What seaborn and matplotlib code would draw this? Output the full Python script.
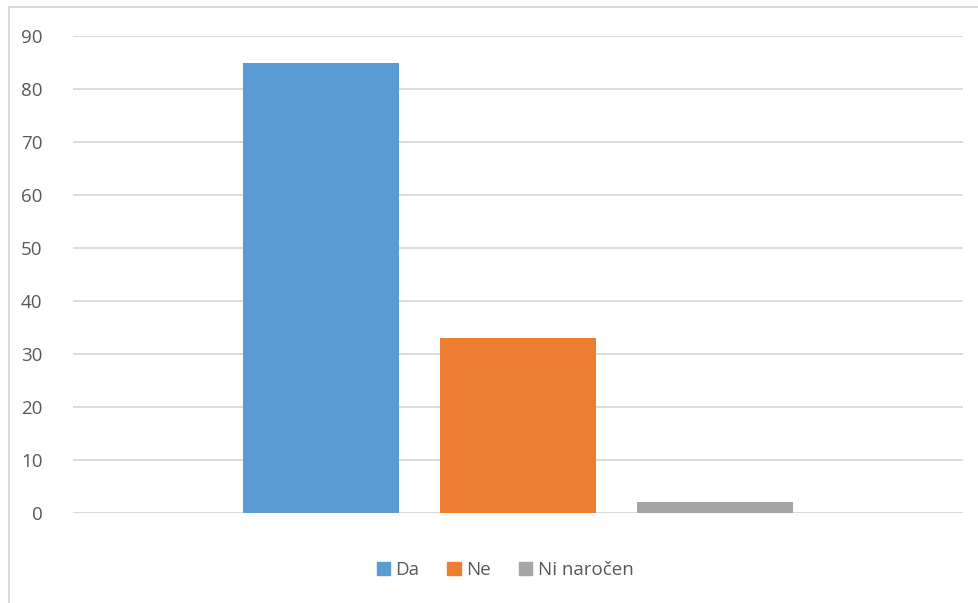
import pandas as pd
import numpy as np
from matplotlib import pyplot as plt
from matplotlib.patches import Rectangle
import seaborn as sns

# data
series = ['Da', 'Ne', 'Ni naročen']
values = [85, 33, 2]
colors = ['#5b9bd5', '#ed7d31', '#a5a5a5']
yticks = [0, 10, 20, 30, 40, 50, 60, 70, 80, 90]

df = pd.DataFrame({'cat': [''] * len(series), 'odgovor': series, 'n': values})

sns.set_theme(style='white')
plt.rcParams['font.family'] = ['Open Sans', 'DejaVu Sans']

fig = plt.figure(figsize=(9.79, 6.03), dpi=100)
ax = fig.add_axes([73/979, 1 - 513/603, (963 - 73)/979, (513 - 36)/603])

sns.barplot(data=df, x='cat', y='n', hue='odgovor', hue_order=series,
            palette=colors, width=0.664, gap=0.208, saturation=1,
            linewidth=0, ax=ax, legend=False)

ax.set_ylim(0, 90)
ax.set_xlim(-0.5, 0.5)
ax.set_yticks(yticks)
ax.yaxis.grid(True, color='#d9d9d9', linewidth=1.3)
ax.set_axisbelow(True)
for s in ax.spines.values():
    s.set_visible(False)
ax.set_xlabel('')
ax.set_ylabel('')
ax.set_xticks([])
ax.tick_params(axis='y', length=0, pad=22, labelsize=13.5, labelcolor='#595959')

# zero line on top of the grid
ax.axhline(0, color='#d9d9d9', linewidth=1.3, zorder=0.5)

# legend with square markers
handles = [Rectangle((0, 0), 1, 1, color=c) for c in colors]
fig.legend(handles, series, loc='center', bbox_to_anchor=(505/979, 1 - 570/603),
           ncol=3, frameon=False, fontsize=13.5, labelcolor='#595959',
           handlelength=0.7, handleheight=0.7, handletextpad=0.3, columnspacing=1.5)

# chart border (left and top visible)
fig.patches.append(Rectangle((9/979, -0.1), 1.2, 1 - 7/603 + 0.1, transform=fig.transFigure,
                             fill=False, edgecolor='#d9d9d9', linewidth=1.5))

fig.savefig('out.png', dpi=100)
